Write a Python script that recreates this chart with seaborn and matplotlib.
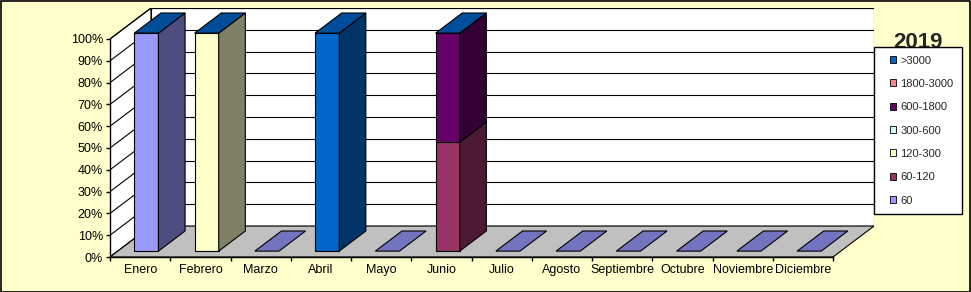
import matplotlib
matplotlib.use("Agg")
import matplotlib.pyplot as plt
from matplotlib.patches import Polygon, Rectangle, Patch
import matplotlib.colors as mcolors
import seaborn as sns

# ---------------- data ----------------
months = ["Enero", "Febrero", "Marzo", "Abril", "Mayo", "Junio", "Julio",
          "Agosto", "Septiembre", "Octubre", "Noviembre", "Diciembre"]
series_names = ["60", "60-120", "120-300", "300-600", "600-1800", "1800-3000", ">3000"]
s_60        = [100, 0, 0, 0, 0, 0, 0, 0, 0, 0, 0, 0]
s_60_120    = [0, 0, 0, 0, 0, 50, 0, 0, 0, 0, 0, 0]
s_120_300   = [0, 100, 0, 0, 0, 0, 0, 0, 0, 0, 0, 0]
s_300_600   = [0, 0, 0, 0, 0, 0, 0, 0, 0, 0, 0, 0]
s_600_1800  = [0, 0, 0, 0, 0, 50, 0, 0, 0, 0, 0, 0]
s_1800_3000 = [0, 0, 0, 0, 0, 0, 0, 0, 0, 0, 0, 0]
s_3000      = [0, 0, 0, 100, 0, 0, 0, 0, 0, 0, 0, 0]
series_values = [s_60, s_60_120, s_120_300, s_300_600, s_600_1800, s_1800_3000, s_3000]
series_colors = ["#9999FF", "#993366", "#FFFFCC", "#CCFFFF", "#660066", "#FF8080", "#0066CC"]
yticks = [0, 10, 20, 30, 40, 50, 60, 70, 80, 90, 100]
title = "2019"

# ---------------- style ----------------
sns.set_style("white")
plt.rcParams["font.family"] = ["Liberation Sans", "DejaVu Sans"]

W, H = 971, 292
fig = plt.figure(figsize=(W / 100, H / 100), dpi=100)
fig.patch.set_facecolor("#FFFFCC")

DX = 0.68    # depth offset in category units
DY = 14.2    # depth offset in percent units
ncat = len(months)

ax = fig.add_axes([110 / W, (H - 257) / H, (ncat + DX) * 60.25 / W, (100 + DY) * 2.18 / H])
ax.set_xlim(0, ncat + DX)
ax.set_ylim(0, 100 + DY)
ax.patch.set_alpha(0)


def shade(c, f):
    r, g, b = mcolors.to_rgb(c)
    return (r * f, g * f, b * f)


def P(x, y, z):
    return (x + z * DX, y + z * DY)


LW = 0.8
# walls
ax.add_patch(Polygon([P(0, 0, 1), P(ncat, 0, 1), P(ncat, 100, 1), P(0, 100, 1)],
                     closed=True, fc="white", ec="black", lw=LW, zorder=1))
ax.add_patch(Polygon([P(0, 0, 0), P(0, 0, 1), P(0, 100, 1), P(0, 100, 0)],
                     closed=True, fc="white", ec="black", lw=LW, zorder=1))
for v in yticks:
    a = P(0, v, 1)
    b = P(ncat, v, 1)
    ax.plot([a[0], b[0]], [a[1], b[1]], color="black", lw=LW, zorder=1.5)
    c = P(0, v, 0)
    ax.plot([c[0], a[0]], [c[1], a[1]], color="black", lw=LW, zorder=1.5)
# floor
ax.add_patch(Polygon([P(0, 0, 0), P(ncat, 0, 0), P(ncat, 0, 1), P(0, 0, 1)],
                     closed=True, fc="#C0C0C0", ec="black", lw=LW, zorder=2))

# bars
bw = 0.40
z0, z1 = 0.19, 0.84
for i in range(ncat):
    xc = i + 0.475
    x0, x1 = xc - bw / 2, xc + bw / 2
    bottom = 0
    total = sum(s[i] for s in series_values)
    for s, col in zip(series_values, series_colors):
        v = s[i]
        if v <= 0:
            continue
        t = bottom + v
        ax.add_patch(Polygon([P(x0, bottom, z0), P(x1, bottom, z0), P(x1, t, z0), P(x0, t, z0)],
                             closed=True, fc=col, ec="black", lw=LW, zorder=3))
        ax.add_patch(Polygon([P(x1, bottom, z0), P(x1, bottom, z1), P(x1, t, z1), P(x1, t, z0)],
                             closed=True, fc=shade(col, 0.5), ec="black", lw=LW, zorder=3))
        bottom = t
    topcol = series_colors[-1] if total > 0 else series_colors[0]
    ax.add_patch(Polygon([P(x0, bottom, z0), P(x1, bottom, z0), P(x1, bottom, z1), P(x0, bottom, z1)],
                         closed=True, fc=shade(topcol, 0.75), ec="black", lw=LW, zorder=3.5))

# axes
for sp in ["top", "right"]:
    ax.spines[sp].set_visible(False)
ax.spines["left"].set_bounds(0, 100)
ax.spines["bottom"].set_bounds(0, ncat)
for sp in ["left", "bottom"]:
    ax.spines[sp].set_linewidth(1.0)
    ax.spines[sp].set_color("black")
    ax.spines[sp].set_zorder(4)
ax.set_yticks(yticks)
ax.set_yticklabels([f"{v}%" for v in yticks])
ax.set_xticks(range(ncat + 1))
ax.set_xticklabels([])
ax.set_xticks([i + 0.5 for i in range(ncat)], minor=True)
ax.set_xticklabels(months, minor=True)
ax.tick_params(axis="y", direction="out", length=3, width=1, color="black",
               labelsize=9, pad=2, labelcolor="black", left=True)
ax.tick_params(axis="x", which="major", direction="out", length=3, width=1, color="black", bottom=True)
ax.tick_params(axis="x", which="minor", length=0, labelsize=9, pad=5, labelcolor="black")
ax.grid(False)

# title (partly hidden behind the legend)
fig.text(918 / W, 1 - 48 / H, title, ha="center", va="baseline",
         fontsize=16, fontweight="bold", zorder=3)

# legend
fig.patches.append(Rectangle((874 / W, 1 - 214 / H), 88 / W, 167 / H, transform=fig.transFigure,
                             fc="white", ec="black", lw=1.0, zorder=4))
handles = [Patch(fc=c, ec="black", lw=0.6) for c in series_colors[::-1]]
fig.legend(handles, series_names[::-1], loc="upper left",
           bbox_to_anchor=(884 / W, 1 - 50 / H), frameon=False, fontsize=8,
           borderpad=0, labelspacing=1.2, handlelength=0.6, handleheight=0.6,
           handletextpad=0.35).set_zorder(5)

# outer border
fig.patches.append(Rectangle((0.5 / W, 0.5 / H), (W - 1.5) / W, (H - 1.5) / H,
                             transform=fig.transFigure, fill=False, ec="black", lw=1.2, zorder=10))

fig.savefig("out.png", dpi=100, facecolor=fig.get_facecolor())
